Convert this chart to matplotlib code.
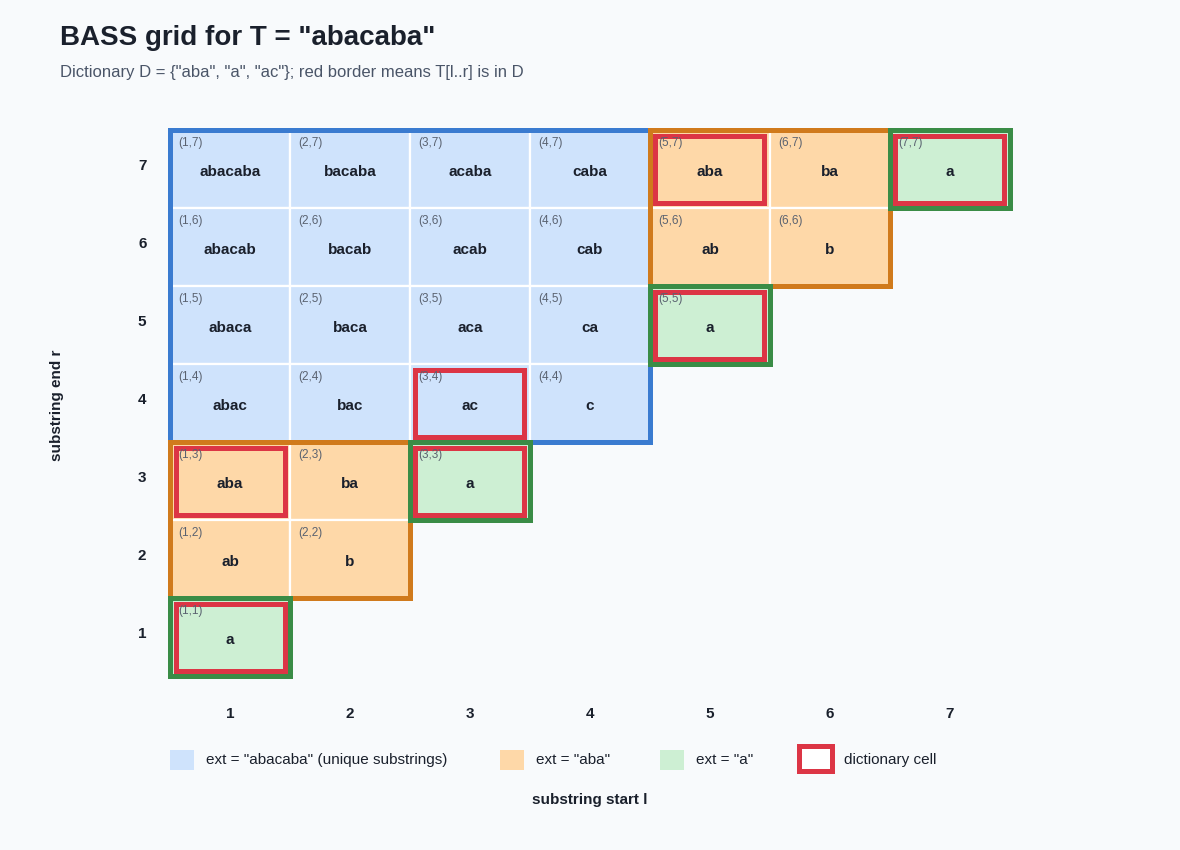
import matplotlib
matplotlib.use("Agg")
import matplotlib.pyplot as plt
import matplotlib.transforms as mtransforms
from matplotlib.patches import Rectangle

plt.rcParams["font.family"] = ["Liberation Sans", "DejaVu Sans"]

# data
T = "abacaba"
DICTIONARY = ["aba", "a", "ac"]
positions = [1, 2, 3, 4, 5, 6, 7]

# extension class of each cell, one string per row r = 7 .. 1 (char per l)
ext_rows = [
    "BBBBOOG",  # r = 7
    "BBBBOO",   # r = 6
    "BBBBG",    # r = 5
    "BBBB",     # r = 4
    "OOG",      # r = 3
    "OO",       # r = 2
    "G",        # r = 1
]
# group blocks: (kind, l_from, l_to, r_from, r_to)
group_blocks = [
    ("B", 1, 4, 4, 7),
    ("O", 1, 2, 2, 3),
    ("O", 5, 6, 6, 7),
    ("G", 1, 1, 1, 1),
    ("G", 3, 3, 3, 3),
    ("G", 5, 5, 5, 5),
    ("G", 7, 7, 7, 7),
]
legend_labels = {
    "B": 'ext = "abacaba" (unique substrings)',
    "O": 'ext = "aba"',
    "G": 'ext = "a"',
}

FILL = {"B": "#cfe3fc", "O": "#fed8a8", "G": "#cdefd3"}
EDGE = {"B": "#3a7bd0", "O": "#d07a1c", "G": "#3a8c46"}
ZORD = {"B": 3.0, "O": 3.1, "G": 3.2}
RED = "#dc3545"
BG = "#f8fafc"
DARK = "#1a202c"

W, H = 1180, 850
fig = plt.figure(figsize=(W / 100, H / 100), dpi=100, facecolor=BG)

# grid area in pixels: x 170..1010, y 130..676
ax = fig.add_axes([170 / W, (H - 676) / H, 840 / W, 546 / H])
ax.set_facecolor(BG)
ax.set_xlim(0.5, 7.5)
ax.set_ylim(0.5, 7.5)
for s in ax.spines.values():
    s.set_visible(False)

# pixel size in data units
px_x = 7 / 840
px_y = 7 / 546

top_r = len(ext_rows)
for i, row in enumerate(ext_rows):
    r = top_r - i
    for j, kind in enumerate(row):
        l = j + 1
        ax.add_patch(Rectangle((l - 0.5, r - 0.5), 1, 1, facecolor=FILL[kind],
                               edgecolor="white", linewidth=1.6, zorder=1))
        sub = T[l - 1:r]
        ax.text(l, r - 3.5 * px_y, sub, ha="center", va="center", fontsize=11,
                fontweight="bold", color=DARK, zorder=6)
        ax.text(l - 0.5 + 8 * px_x, r + 0.5 - 7 * px_y, f"({l},{r})", ha="left", va="top",
                fontsize=8.5, color="#5a6270", zorder=6)
        if sub in DICTIONARY:
            ins_x, ins_y = 5.5 * px_x, 5.5 * px_y
            ax.add_patch(Rectangle((l - 0.5 + ins_x, r - 0.5 + ins_y), 1 - 2 * ins_x, 1 - 2 * ins_y,
                                   facecolor="none", edgecolor=RED, linewidth=3.6, zorder=4,
                                   clip_on=False))

for kind, l0, l1, r0, r1 in group_blocks:
    ax.add_patch(Rectangle((l0 - 0.5, r0 - 0.5), l1 - l0 + 1, r1 - r0 + 1, facecolor="none",
                           edgecolor=EDGE[kind], linewidth=3.6, zorder=ZORD[kind], clip_on=False))

ax.set_xticks(positions)
ax.set_yticks(positions)
ax.set_xticklabels([str(p) for p in positions], fontsize=11, fontweight="bold", color=DARK)
ax.set_yticklabels([str(p) for p in positions], fontsize=11, fontweight="bold", color=DARK)
ax.tick_params(axis="both", length=0)
ax.tick_params(axis="x", pad=22)
ax.tick_params(axis="y", pad=17)
shift = mtransforms.ScaledTranslation(0, 5 / 100, fig.dpi_scale_trans)
for lab in ax.get_yticklabels():
    lab.set_transform(lab.get_transform() + shift)

# titles and axis labels
fig.text(60 / W, 1 - 38 / H, 'BASS grid for T = "abacaba"', fontsize=20, fontweight="bold",
         color=DARK, ha="left", va="center")
fig.text(60 / W, 1 - 72 / H, 'Dictionary D = {"aba", "a", "ac"}; red border means T[l..r] is in D',
         fontsize=12, color="#4a5568", ha="left", va="center")
fig.text(57 / W, 1 - 405 / H, "substring end r", rotation=90, fontsize=11, fontweight="bold",
         color=DARK, ha="center", va="center")
fig.text(590 / W, 1 - 800 / H, "substring start l", fontsize=11, fontweight="bold",
         color=DARK, ha="center", va="center")

# legend
leg_y = 760
for kind, px in [("B", 170), ("O", 500), ("G", 660)]:
    fig.add_artist(Rectangle((px / W, 1 - (leg_y + 10) / H), 24 / W, 20 / H,
                             facecolor=FILL[kind], edgecolor="none", transform=fig.transFigure))
    fig.text((px + 36) / W, 1 - leg_y / H, legend_labels[kind], fontsize=11, color=DARK,
             ha="left", va="center")
fig.add_artist(Rectangle((799.5 / W, 1 - 771 / H), 33 / W, 25 / H, facecolor="white",
                         edgecolor=RED, linewidth=3.6, transform=fig.transFigure))
fig.text(844 / W, 1 - leg_y / H, "dictionary cell", fontsize=11, color=DARK, ha="left", va="center")

fig.savefig("out.png", dpi=100, facecolor=BG)
